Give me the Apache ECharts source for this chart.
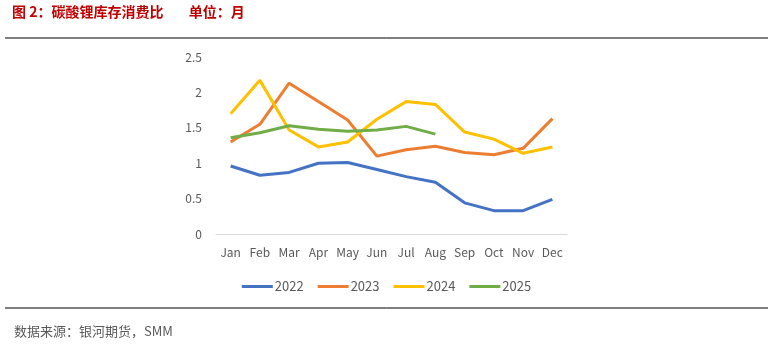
<!DOCTYPE html>
<html>
<head>
<meta charset="utf-8">
<script src="https://cdn.jsdelivr.net/npm/echarts@6/dist/echarts.min.js"></script>
<style>
  html, body { margin: 0; padding: 0; background: #fff; }
  #chart { width: 773px; height: 351px; }
</style>
</head>
<body>
<div id="chart"></div>
<script>
const months = ["Jan", "Feb", "Mar", "Apr", "May", "Jun", "Jul", "Aug", "Sep", "Oct", "Nov", "Dec"];
const y2022 = [0.96, 0.83, 0.87, 1.0, 1.01, 0.91, 0.81, 0.73, 0.44, 0.33, 0.33, 0.49];
const y2023 = [1.30, 1.55, 2.13, 1.87, 1.61, 1.10, 1.19, 1.24, 1.15, 1.12, 1.21, 1.63];
const y2024 = [1.70, 2.17, 1.47, 1.23, 1.30, 1.62, 1.87, 1.83, 1.44, 1.34, 1.14, 1.23];
const y2025 = [1.36, 1.43, 1.53, 1.48, 1.45, 1.47, 1.52, 1.41];

const font = "'Noto Sans CJK SC', 'Open Sans', sans-serif";
const mk = (name, data, color) => ({
  name, type: "line", data, symbol: "none", smooth: false,
  lineStyle: { width: 3, color }, itemStyle: { color }
});

const chart = echarts.init(document.getElementById("chart"));
chart.setOption({
  animation: false,
  backgroundColor: "#fff",
  textStyle: { fontFamily: font },
  grid: { left: 216, right: 206, top: 57, bottom: 117 },
  legend: {
    top: 275, left: "center",
    itemWidth: 31, itemHeight: 3, itemGap: 14,
    icon: "rect",
    textStyle: { color: "#595959", fontSize: 13, fontFamily: font, padding: [0, 0, 0, -3] },
    data: ["2022", "2023", "2024", "2025"]
  },
  xAxis: {
    type: "category", data: months, boundaryGap: true,
    axisLine: { lineStyle: { color: "#d9d9d9", width: 1 } },
    axisTick: { show: false },
    axisLabel: { color: "#595959", fontSize: 12, margin: 12, interval: 0 }
  },
  yAxis: {
    type: "value", min: 0, max: 2.5, interval: 0.5,
    axisLine: { show: false }, axisTick: { show: false },
    splitLine: { show: false },
    axisLabel: { color: "#595959", fontSize: 12, margin: 14 }
  },
  series: [
    mk("2022", y2022, "#4472C4"),
    mk("2023", y2023, "#ED7D31"),
    mk("2024", y2024, "#FFC000"),
    mk("2025", y2025, "#70AD47")
  ],
  graphic: [
    { type: "text", left: 12, top: 5, style: { text: "图 2：碳酸锂库存消费比        单位：月", fill: "#C00000", font: "bold 14px " + font } },
    { type: "line", shape: { x1: 5, y1: 38, x2: 768, y2: 38 }, style: { stroke: "#000", lineWidth: 1 } },
    { type: "line", shape: { x1: 5, y1: 308, x2: 768, y2: 308 }, style: { stroke: "#000", lineWidth: 1 } },
    { type: "text", left: 14, top: 325, style: { text: "数据来源：银河期货，SMM", fill: "#595959", font: "13px " + font } }
  ]
});
</script>
</body>
</html>
